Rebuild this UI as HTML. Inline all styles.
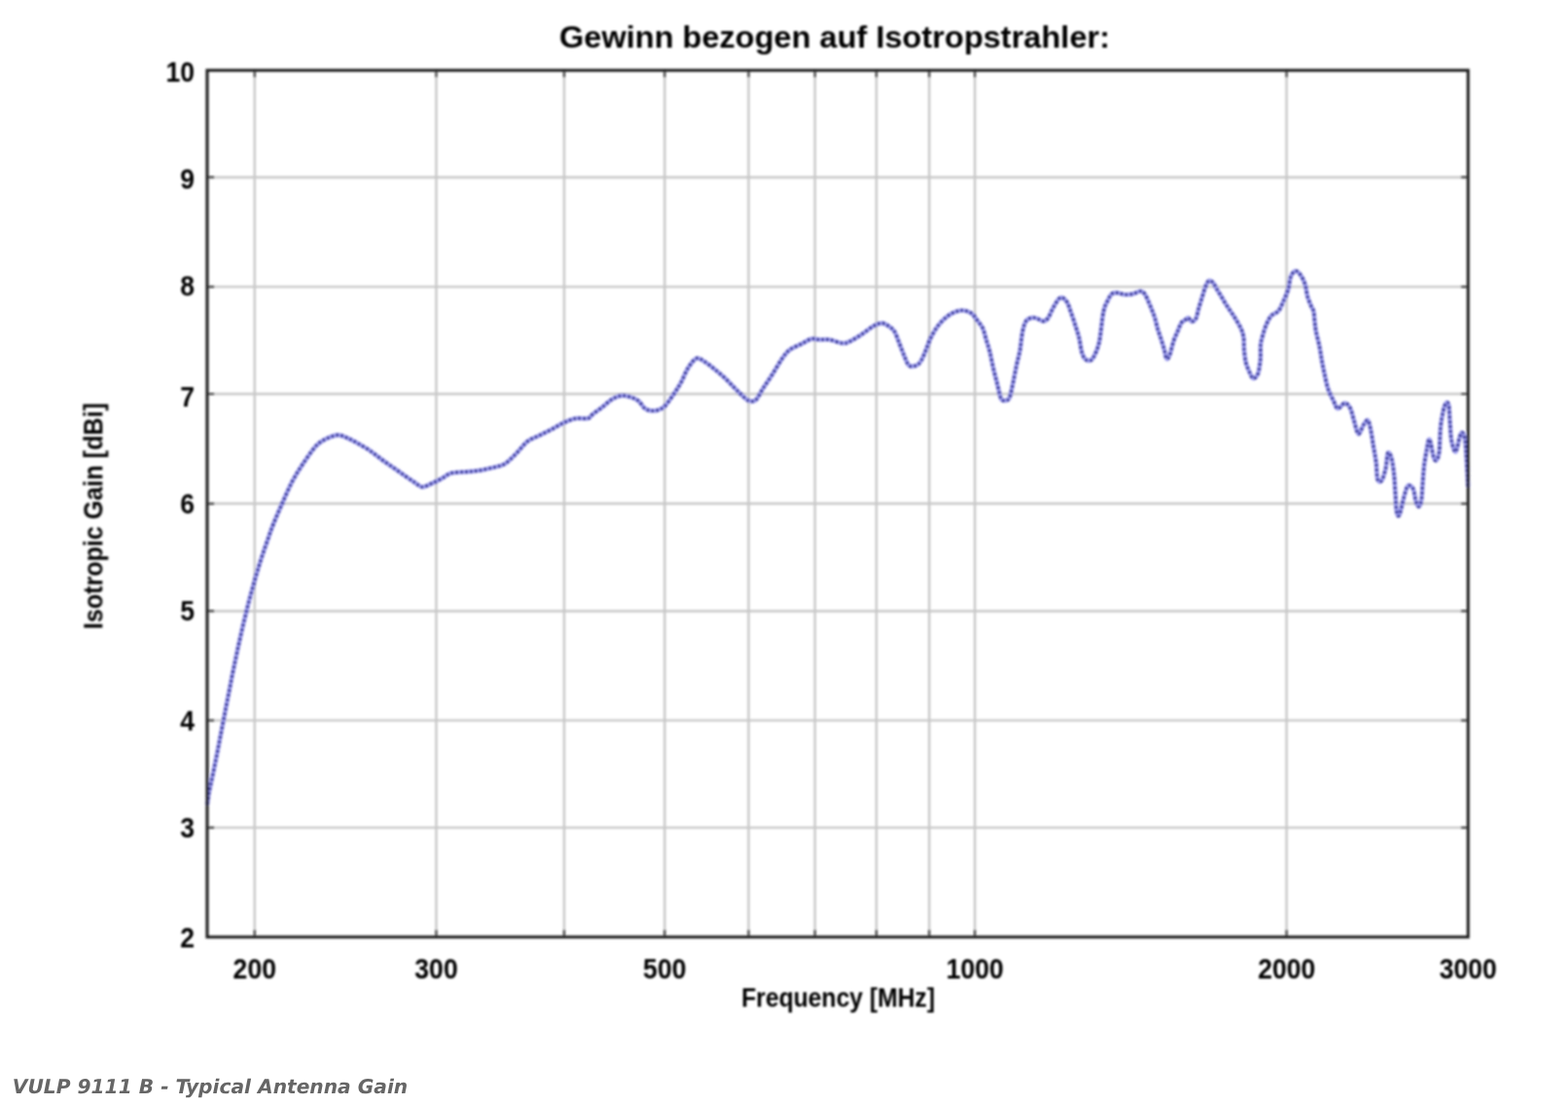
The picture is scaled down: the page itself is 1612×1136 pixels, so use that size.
<!DOCTYPE html><html><head><meta charset="utf-8"><title>VULP 9111 B - Typical Antenna Gain</title><style>
html,body{margin:0;padding:0;background:#fff;}body{width:1612px;height:1136px;position:relative;overflow:hidden;}
svg{position:absolute;left:0;top:0;}
.t{font-family:"Liberation Sans",Arial,sans-serif;font-weight:bold;fill:#000;}
.cap{position:absolute;left:12.8px;top:0;font-family:"DejaVu Sans",Verdana,sans-serif;font-weight:bold;font-style:italic;font-size:20.2px;color:#666;white-space:nowrap;line-height:1;text-rendering:geometricPrecision;transform:scale(1.000,1.000);transform-origin:0 17.1px;}
</style></head><body>
<svg width="1612" height="1136" viewBox="0 0 1612 1136">
<defs><filter id="bl" filterUnits="userSpaceOnUse" x="0" y="0" width="1612" height="1136"><feGaussianBlur stdDeviation="0.80"/></filter><filter id="bl2" filterUnits="userSpaceOnUse" x="0" y="0" width="1612" height="1136"><feGaussianBlur stdDeviation="0.90"/></filter></defs>
<g filter="url(#bl2)">
<path d="M261.8,72.3V963.3M448.5,72.3V963.3M580.0,72.3V963.3M683.3,72.3V963.3M769.6,72.3V963.3M837.8,72.3V963.3M901.0,72.3V963.3M955.3,72.3V963.3M1002.2,72.3V963.3M1322.7,72.3V963.3M213.0,850.9H1509.3M213.0,740.6H1509.3M213.0,628.2H1509.3M213.0,517.8H1509.3M213.0,405.0H1509.3M213.0,294.9H1509.3M213.0,182.2H1509.3" stroke="#c8c8c8" stroke-width="2.40" fill="none"/>
</g><g filter="url(#bl)">
<path d="M261.8,72.3V79.3M261.8,963.3V956.3M448.5,72.3V79.3M448.5,963.3V956.3M580.0,72.3V79.3M580.0,963.3V956.3M683.3,72.3V79.3M683.3,963.3V956.3M769.6,72.3V79.3M769.6,963.3V956.3M837.8,72.3V79.3M837.8,963.3V956.3M901.0,72.3V79.3M901.0,963.3V956.3M955.3,72.3V79.3M955.3,963.3V956.3M1002.2,72.3V79.3M1002.2,963.3V956.3M1322.7,72.3V79.3M1322.7,963.3V956.3M213.0,850.9H220.0M1509.3,850.9H1502.3M213.0,740.6H220.0M1509.3,740.6H1502.3M213.0,628.2H220.0M1509.3,628.2H1502.3M213.0,517.8H220.0M1509.3,517.8H1502.3M213.0,405.0H220.0M1509.3,405.0H1502.3M213.0,294.9H220.0M1509.3,294.9H1502.3M213.0,182.2H220.0M1509.3,182.2H1502.3" stroke="#555" stroke-width="2.2" fill="none"/>
<path d="M213.2,826.5 C213.5,824.6 214.1,818.8 214.8,814.9 C215.5,811.0 216.6,806.9 217.4,802.9 C218.2,798.9 219.1,794.9 219.9,790.9 C220.7,786.9 221.5,782.9 222.3,778.9 C223.1,774.9 223.9,770.9 224.7,766.9 C225.5,762.9 226.2,758.9 227.0,754.9 C227.8,750.9 228.5,746.9 229.3,742.9 C230.1,738.9 230.8,734.9 231.6,730.9 C232.4,726.9 233.1,722.9 233.9,718.9 C234.7,714.9 235.5,710.9 236.3,706.9 C237.1,702.9 237.8,698.9 238.6,694.9 C239.4,690.9 240.3,686.9 241.1,682.9 C241.9,678.9 242.8,674.9 243.6,670.9 C244.4,666.9 245.3,662.9 246.2,658.9 C247.1,654.9 248.0,650.9 248.9,646.9 C249.8,642.9 250.8,638.9 251.8,634.9 C252.8,630.9 253.7,626.9 254.7,622.9 C255.7,618.9 256.8,614.9 257.9,610.9 C259.0,606.9 260.1,602.9 261.2,598.9 C262.3,594.9 263.5,590.9 264.7,586.9 C265.9,582.9 267.1,578.9 268.4,574.9 C269.7,570.9 271.0,566.9 272.4,562.9 C273.8,558.9 275.2,554.9 276.6,550.9 C278.0,546.9 278.8,544.4 281.0,538.9 C283.2,533.4 286.7,525.3 289.9,518.0 C293.1,510.7 296.9,501.9 300.4,495.1 C303.9,488.4 306.9,483.6 311.0,477.5 C315.1,471.4 321.0,462.6 325.1,458.2 C329.2,453.8 331.9,452.9 335.6,451.1 C339.3,449.3 343.8,447.4 347.4,447.3 C351.0,447.2 354.0,449.0 357.3,450.4 C360.6,451.8 363.5,453.3 367.2,455.4 C370.9,457.5 375.5,460.0 379.6,462.8 C383.7,465.6 387.9,469.1 392.0,472.1 C396.1,475.1 400.3,477.9 404.4,480.8 C408.5,483.7 413.1,486.9 416.8,489.5 C420.5,492.1 423.9,494.4 426.8,496.3 C429.7,498.2 431.3,500.5 434.2,500.6 C437.1,500.7 440.8,498.3 444.1,496.9 C447.4,495.5 450.8,493.8 454.1,492.0 C457.4,490.2 459.9,487.5 464.0,486.4 C468.1,485.2 474.3,485.5 478.9,485.1 C483.4,484.7 486.8,484.6 491.3,483.9 C495.9,483.2 501.6,481.9 506.2,480.8 C510.8,479.7 514.6,479.4 518.6,477.1 C522.6,474.8 526.0,470.9 530.0,467.0 C534.0,463.1 538.2,457.0 542.3,453.8 C546.4,450.6 550.6,449.7 554.7,447.6 C558.8,445.5 563.0,443.6 567.1,441.4 C571.2,439.2 575.5,436.5 579.6,434.6 C583.8,432.7 587.9,430.9 592.0,430.2 C596.1,429.5 601.5,430.9 604.4,430.2 C607.3,429.5 606.8,427.8 609.3,425.9 C611.8,423.9 616.0,421.1 619.3,418.5 C622.6,415.9 625.9,412.4 629.2,410.4 C632.5,408.4 635.8,407.0 639.1,406.7 C642.4,406.4 646.1,407.6 649.0,408.5 C651.9,409.4 654.2,410.4 656.5,412.3 C658.8,414.2 660.6,418.1 662.7,419.7 C664.8,421.3 666.6,421.9 668.9,422.2 C671.2,422.5 673.8,422.4 676.3,421.6 C678.8,420.8 680.9,420.2 683.8,417.2 C686.7,414.2 690.9,407.7 693.7,403.6 C696.5,399.5 698.2,396.7 700.5,392.5 C702.8,388.3 704.8,382.3 707.4,378.3 C710.0,374.3 713.2,369.4 716.1,368.4 C719.0,367.4 721.7,370.2 724.8,372.1 C727.9,374.0 731.4,376.9 734.7,379.6 C738.0,382.3 741.4,385.1 744.7,388.2 C748.0,391.3 751.7,395.3 754.6,398.2 C757.5,401.1 759.5,403.3 762.0,405.6 C764.5,407.9 767.0,410.9 769.5,411.8 C772.0,412.7 774.4,413.3 776.9,411.2 C779.4,409.1 781.5,403.8 784.4,399.4 C787.3,394.9 791.0,389.7 794.3,384.5 C797.6,379.3 801.3,372.5 804.2,368.4 C807.1,364.3 808.4,362.2 811.7,359.7 C815.0,357.2 820.4,355.4 824.1,353.5 C827.8,351.6 830.9,349.2 834.0,348.5 C837.1,347.8 839.6,349.1 842.7,349.2 C845.8,349.3 848.7,348.6 852.6,349.2 C856.5,349.8 862.8,352.6 866.3,352.9 C869.8,353.2 870.4,352.6 873.7,351.0 C877.0,349.4 882.0,346.3 886.1,343.6 C890.2,340.9 895.0,336.8 898.5,334.9 C902.0,333.0 904.6,332.1 907.3,332.3 C910.0,332.5 912.6,334.7 914.7,336.1 C916.8,337.6 918.0,338.1 919.7,341.0 C921.4,343.9 923.1,349.3 924.7,353.4 C926.4,357.5 928.0,362.1 929.6,365.8 C931.2,369.5 932.5,374.1 934.6,375.8 C936.7,377.5 939.9,376.6 942.0,375.8 C944.1,375.0 945.3,373.5 947.0,370.8 C948.7,368.1 950.4,363.5 952.0,359.6 C953.6,355.7 954.8,351.3 956.9,347.2 C959.0,343.1 961.5,338.5 964.4,334.8 C967.3,331.1 971.0,327.4 974.3,324.9 C977.6,322.4 981.3,320.8 984.2,319.9 C987.1,319.0 989.2,318.9 991.7,319.3 C994.2,319.7 997.0,320.8 999.1,322.4 C1001.2,323.9 1002.2,326.1 1004.1,328.6 C1006.0,331.1 1008.6,333.8 1010.3,337.3 C1011.9,340.8 1012.8,345.6 1014.0,349.7 C1015.2,353.8 1016.5,357.1 1017.7,362.1 C1018.9,367.1 1020.1,374.1 1021.4,379.5 C1022.6,384.9 1024.0,389.4 1025.2,394.4 C1026.5,399.4 1027.7,406.4 1028.9,409.3 C1030.1,412.2 1031.1,411.7 1032.6,411.7 C1034.0,411.7 1036.1,412.2 1037.6,409.3 C1039.0,406.4 1040.1,400.0 1041.3,394.4 C1042.5,388.8 1043.8,381.6 1045.0,375.8 C1046.2,370.0 1047.7,365.4 1048.7,359.6 C1049.7,353.8 1050.2,345.9 1051.2,341.0 C1052.2,336.1 1053.2,332.3 1054.9,329.9 C1056.6,327.5 1059.2,327.1 1061.1,326.7 C1063.0,326.3 1064.2,326.8 1066.1,327.4 C1068.0,328.0 1070.5,330.2 1072.4,330.2 C1074.3,330.1 1075.8,329.3 1077.4,327.1 C1079.1,324.9 1080.5,320.5 1082.3,317.2 C1084.1,313.9 1086.8,309.1 1088.5,307.3 C1090.2,305.5 1090.8,305.5 1092.3,306.1 C1093.8,306.7 1095.8,308.5 1097.2,311.0 C1098.6,313.5 1099.5,316.8 1100.9,320.9 C1102.4,325.0 1104.5,331.2 1105.9,335.8 C1107.4,340.4 1108.6,343.9 1109.6,348.2 C1110.6,352.5 1111.1,358.4 1112.1,361.9 C1113.1,365.4 1114.3,367.9 1115.8,369.3 C1117.2,370.8 1119.3,371.0 1120.8,370.6 C1122.2,370.2 1123.0,369.9 1124.5,366.8 C1126.0,363.7 1128.3,359.7 1130.0,352.0 C1131.7,344.3 1132.9,327.7 1134.4,320.5 C1135.9,313.3 1137.3,312.1 1138.8,309.0 C1140.3,305.9 1141.4,303.3 1143.2,302.0 C1145.0,300.7 1147.2,301.0 1149.4,301.1 C1151.6,301.2 1153.8,302.8 1156.4,302.9 C1159.0,303.0 1162.6,302.6 1165.2,302.0 C1167.8,301.4 1170.4,299.4 1172.3,299.4 C1174.2,299.4 1175.2,300.1 1176.7,302.0 C1178.2,303.9 1179.7,307.9 1181.0,310.8 C1182.3,313.7 1183.6,317.0 1184.6,319.6 C1185.6,322.2 1186.3,323.8 1187.2,326.7 C1188.1,329.6 1188.9,333.7 1189.9,337.2 C1190.9,340.7 1192.2,344.1 1193.4,347.8 C1194.6,351.5 1196.0,356.0 1196.9,359.2 C1197.8,362.4 1198.0,365.5 1198.6,367.1 C1199.2,368.7 1199.7,369.5 1200.4,368.9 C1201.1,368.3 1202.0,366.7 1203.0,363.6 C1204.0,360.5 1205.3,354.3 1206.6,350.4 C1207.9,346.4 1209.7,343.0 1211.0,339.9 C1212.3,336.8 1213.3,333.7 1214.5,331.9 C1215.7,330.1 1216.8,330.2 1218.0,329.3 C1219.2,328.4 1220.4,326.5 1221.6,326.7 C1222.8,326.9 1223.8,330.5 1225.1,330.6 C1226.4,330.7 1228.3,329.6 1229.5,327.5 C1230.7,325.4 1231.1,321.4 1232.1,317.9 C1233.1,314.4 1234.4,310.2 1235.6,306.4 C1236.8,302.6 1238.0,297.9 1239.2,295.0 C1240.4,292.1 1241.4,289.5 1242.7,288.8 C1244.0,288.1 1245.8,289.3 1247.1,290.6 C1248.4,291.9 1249.2,294.4 1250.5,296.5 C1251.8,298.6 1253.2,300.9 1254.8,303.5 C1256.4,306.1 1258.2,309.5 1259.9,312.2 C1261.6,314.9 1263.2,317.1 1264.8,319.6 C1266.4,322.1 1267.9,324.0 1269.8,327.1 C1271.7,330.2 1274.5,334.9 1276.0,338.2 C1277.5,341.5 1278.0,343.4 1278.5,346.9 C1279.0,350.4 1278.6,354.9 1279.0,359.3 C1279.4,363.7 1280.0,369.1 1280.9,373.0 C1281.9,376.9 1283.5,380.2 1284.7,382.9 C1286.0,385.6 1287.0,388.9 1288.4,389.1 C1289.8,389.3 1292.1,387.4 1293.3,384.1 C1294.5,380.8 1295.3,374.2 1295.8,369.3 C1296.2,364.4 1295.6,358.5 1296.0,354.4 C1296.4,350.2 1297.3,347.9 1298.3,344.4 C1299.3,340.9 1300.5,336.6 1302.0,333.3 C1303.5,330.0 1304.9,326.9 1307.0,324.6 C1309.1,322.3 1312.3,322.1 1314.4,319.6 C1316.5,317.1 1317.7,313.4 1319.4,309.7 C1321.1,306.0 1323.2,301.4 1324.4,297.3 C1325.6,293.2 1325.6,288.0 1326.8,284.9 C1328.0,281.8 1330.1,279.1 1331.8,278.7 C1333.5,278.3 1335.1,280.1 1336.8,282.4 C1338.5,284.7 1340.5,288.6 1341.7,292.3 C1342.9,296.0 1343.2,301.0 1344.2,304.7 C1345.2,308.4 1346.9,312.1 1347.9,314.7 C1349.0,317.2 1349.9,317.5 1350.5,320.0 C1351.1,322.5 1351.1,326.2 1351.5,329.6 C1351.9,333.1 1352.1,336.2 1352.9,340.7 C1353.8,345.2 1355.6,351.6 1356.6,356.8 C1357.6,362.0 1358.3,367.1 1359.1,371.7 C1359.9,376.2 1360.5,379.4 1361.6,384.1 C1362.6,388.8 1363.8,395.3 1365.4,400.0 C1367.0,404.7 1369.4,409.0 1371.1,412.4 C1372.8,415.8 1373.5,419.8 1375.4,420.1 C1377.3,420.5 1380.3,414.6 1382.4,414.5 C1384.5,414.4 1386.3,416.2 1388.0,419.4 C1389.7,422.6 1390.9,429.0 1392.3,433.5 C1393.7,438.0 1394.9,445.7 1396.5,446.2 C1398.1,446.7 1400.5,438.6 1402.1,436.3 C1403.7,434.0 1405.1,431.2 1406.3,432.1 C1407.5,433.1 1408.2,437.5 1409.2,442.0 C1410.2,446.5 1411.1,453.3 1412.0,458.9 C1412.9,464.5 1414.1,470.2 1414.8,475.8 C1415.5,481.4 1415.3,489.6 1416.2,492.7 C1417.1,495.8 1419.0,496.0 1420.4,494.1 C1421.8,492.2 1423.5,486.1 1424.6,481.4 C1425.7,476.7 1425.8,467.8 1426.8,465.9 C1427.8,464.0 1429.2,466.6 1430.3,470.1 C1431.3,473.6 1432.4,480.9 1433.1,487.0 C1433.8,493.1 1434.0,500.2 1434.5,506.8 C1435.0,513.4 1435.2,522.8 1435.9,526.5 C1436.6,530.2 1437.5,531.6 1438.7,529.3 C1439.9,526.9 1441.6,517.3 1443.0,512.4 C1444.4,507.5 1445.6,501.3 1447.2,499.7 C1448.8,498.1 1451.4,499.9 1452.8,502.5 C1454.2,505.1 1454.6,512.2 1455.6,515.2 C1456.5,518.2 1457.5,521.0 1458.5,520.8 C1459.5,520.6 1460.6,518.0 1461.3,513.8 C1462.0,509.6 1462.2,501.4 1462.7,495.5 C1463.2,489.6 1463.4,484.2 1464.1,478.6 C1464.8,473.0 1466.0,466.2 1466.9,461.7 C1467.8,457.2 1468.5,450.4 1469.7,451.8 C1470.9,453.2 1472.7,466.6 1473.9,470.1 C1475.1,473.6 1475.8,473.9 1476.8,473.0 C1477.8,472.1 1478.9,470.1 1479.6,464.5 C1480.3,458.9 1480.3,446.2 1481.0,439.2 C1481.7,432.2 1482.9,426.4 1483.8,422.3 C1484.7,418.2 1485.7,415.4 1486.6,414.5 C1487.5,413.6 1488.7,413.0 1489.4,416.6 C1490.1,420.2 1490.3,430.2 1490.8,436.3 C1491.3,442.4 1491.3,448.5 1492.3,453.2 C1493.2,457.9 1495.1,465.2 1496.5,464.5 C1497.9,463.8 1499.5,452.3 1500.7,449.0 C1501.9,445.7 1502.6,444.1 1503.5,444.8 C1504.4,445.5 1505.6,448.8 1506.3,453.2 C1507.0,457.6 1507.2,463.8 1507.7,471.5 C1508.2,479.2 1509.0,495.0 1509.2,499.7" stroke="#9c9cf0" stroke-width="4.40" fill="none" stroke-linejoin="round" stroke-linecap="round"/>
<path d="M213.2,826.5 C213.5,824.6 214.1,818.8 214.8,814.9 C215.5,811.0 216.6,806.9 217.4,802.9 C218.2,798.9 219.1,794.9 219.9,790.9 C220.7,786.9 221.5,782.9 222.3,778.9 C223.1,774.9 223.9,770.9 224.7,766.9 C225.5,762.9 226.2,758.9 227.0,754.9 C227.8,750.9 228.5,746.9 229.3,742.9 C230.1,738.9 230.8,734.9 231.6,730.9 C232.4,726.9 233.1,722.9 233.9,718.9 C234.7,714.9 235.5,710.9 236.3,706.9 C237.1,702.9 237.8,698.9 238.6,694.9 C239.4,690.9 240.3,686.9 241.1,682.9 C241.9,678.9 242.8,674.9 243.6,670.9 C244.4,666.9 245.3,662.9 246.2,658.9 C247.1,654.9 248.0,650.9 248.9,646.9 C249.8,642.9 250.8,638.9 251.8,634.9 C252.8,630.9 253.7,626.9 254.7,622.9 C255.7,618.9 256.8,614.9 257.9,610.9 C259.0,606.9 260.1,602.9 261.2,598.9 C262.3,594.9 263.5,590.9 264.7,586.9 C265.9,582.9 267.1,578.9 268.4,574.9 C269.7,570.9 271.0,566.9 272.4,562.9 C273.8,558.9 275.2,554.9 276.6,550.9 C278.0,546.9 278.8,544.4 281.0,538.9 C283.2,533.4 286.7,525.3 289.9,518.0 C293.1,510.7 296.9,501.9 300.4,495.1 C303.9,488.4 306.9,483.6 311.0,477.5 C315.1,471.4 321.0,462.6 325.1,458.2 C329.2,453.8 331.9,452.9 335.6,451.1 C339.3,449.3 343.8,447.4 347.4,447.3 C351.0,447.2 354.0,449.0 357.3,450.4 C360.6,451.8 363.5,453.3 367.2,455.4 C370.9,457.5 375.5,460.0 379.6,462.8 C383.7,465.6 387.9,469.1 392.0,472.1 C396.1,475.1 400.3,477.9 404.4,480.8 C408.5,483.7 413.1,486.9 416.8,489.5 C420.5,492.1 423.9,494.4 426.8,496.3 C429.7,498.2 431.3,500.5 434.2,500.6 C437.1,500.7 440.8,498.3 444.1,496.9 C447.4,495.5 450.8,493.8 454.1,492.0 C457.4,490.2 459.9,487.5 464.0,486.4 C468.1,485.2 474.3,485.5 478.9,485.1 C483.4,484.7 486.8,484.6 491.3,483.9 C495.9,483.2 501.6,481.9 506.2,480.8 C510.8,479.7 514.6,479.4 518.6,477.1 C522.6,474.8 526.0,470.9 530.0,467.0 C534.0,463.1 538.2,457.0 542.3,453.8 C546.4,450.6 550.6,449.7 554.7,447.6 C558.8,445.5 563.0,443.6 567.1,441.4 C571.2,439.2 575.5,436.5 579.6,434.6 C583.8,432.7 587.9,430.9 592.0,430.2 C596.1,429.5 601.5,430.9 604.4,430.2 C607.3,429.5 606.8,427.8 609.3,425.9 C611.8,423.9 616.0,421.1 619.3,418.5 C622.6,415.9 625.9,412.4 629.2,410.4 C632.5,408.4 635.8,407.0 639.1,406.7 C642.4,406.4 646.1,407.6 649.0,408.5 C651.9,409.4 654.2,410.4 656.5,412.3 C658.8,414.2 660.6,418.1 662.7,419.7 C664.8,421.3 666.6,421.9 668.9,422.2 C671.2,422.5 673.8,422.4 676.3,421.6 C678.8,420.8 680.9,420.2 683.8,417.2 C686.7,414.2 690.9,407.7 693.7,403.6 C696.5,399.5 698.2,396.7 700.5,392.5 C702.8,388.3 704.8,382.3 707.4,378.3 C710.0,374.3 713.2,369.4 716.1,368.4 C719.0,367.4 721.7,370.2 724.8,372.1 C727.9,374.0 731.4,376.9 734.7,379.6 C738.0,382.3 741.4,385.1 744.7,388.2 C748.0,391.3 751.7,395.3 754.6,398.2 C757.5,401.1 759.5,403.3 762.0,405.6 C764.5,407.9 767.0,410.9 769.5,411.8 C772.0,412.7 774.4,413.3 776.9,411.2 C779.4,409.1 781.5,403.8 784.4,399.4 C787.3,394.9 791.0,389.7 794.3,384.5 C797.6,379.3 801.3,372.5 804.2,368.4 C807.1,364.3 808.4,362.2 811.7,359.7 C815.0,357.2 820.4,355.4 824.1,353.5 C827.8,351.6 830.9,349.2 834.0,348.5 C837.1,347.8 839.6,349.1 842.7,349.2 C845.8,349.3 848.7,348.6 852.6,349.2 C856.5,349.8 862.8,352.6 866.3,352.9 C869.8,353.2 870.4,352.6 873.7,351.0 C877.0,349.4 882.0,346.3 886.1,343.6 C890.2,340.9 895.0,336.8 898.5,334.9 C902.0,333.0 904.6,332.1 907.3,332.3 C910.0,332.5 912.6,334.7 914.7,336.1 C916.8,337.6 918.0,338.1 919.7,341.0 C921.4,343.9 923.1,349.3 924.7,353.4 C926.4,357.5 928.0,362.1 929.6,365.8 C931.2,369.5 932.5,374.1 934.6,375.8 C936.7,377.5 939.9,376.6 942.0,375.8 C944.1,375.0 945.3,373.5 947.0,370.8 C948.7,368.1 950.4,363.5 952.0,359.6 C953.6,355.7 954.8,351.3 956.9,347.2 C959.0,343.1 961.5,338.5 964.4,334.8 C967.3,331.1 971.0,327.4 974.3,324.9 C977.6,322.4 981.3,320.8 984.2,319.9 C987.1,319.0 989.2,318.9 991.7,319.3 C994.2,319.7 997.0,320.8 999.1,322.4 C1001.2,323.9 1002.2,326.1 1004.1,328.6 C1006.0,331.1 1008.6,333.8 1010.3,337.3 C1011.9,340.8 1012.8,345.6 1014.0,349.7 C1015.2,353.8 1016.5,357.1 1017.7,362.1 C1018.9,367.1 1020.1,374.1 1021.4,379.5 C1022.6,384.9 1024.0,389.4 1025.2,394.4 C1026.5,399.4 1027.7,406.4 1028.9,409.3 C1030.1,412.2 1031.1,411.7 1032.6,411.7 C1034.0,411.7 1036.1,412.2 1037.6,409.3 C1039.0,406.4 1040.1,400.0 1041.3,394.4 C1042.5,388.8 1043.8,381.6 1045.0,375.8 C1046.2,370.0 1047.7,365.4 1048.7,359.6 C1049.7,353.8 1050.2,345.9 1051.2,341.0 C1052.2,336.1 1053.2,332.3 1054.9,329.9 C1056.6,327.5 1059.2,327.1 1061.1,326.7 C1063.0,326.3 1064.2,326.8 1066.1,327.4 C1068.0,328.0 1070.5,330.2 1072.4,330.2 C1074.3,330.1 1075.8,329.3 1077.4,327.1 C1079.1,324.9 1080.5,320.5 1082.3,317.2 C1084.1,313.9 1086.8,309.1 1088.5,307.3 C1090.2,305.5 1090.8,305.5 1092.3,306.1 C1093.8,306.7 1095.8,308.5 1097.2,311.0 C1098.6,313.5 1099.5,316.8 1100.9,320.9 C1102.4,325.0 1104.5,331.2 1105.9,335.8 C1107.4,340.4 1108.6,343.9 1109.6,348.2 C1110.6,352.5 1111.1,358.4 1112.1,361.9 C1113.1,365.4 1114.3,367.9 1115.8,369.3 C1117.2,370.8 1119.3,371.0 1120.8,370.6 C1122.2,370.2 1123.0,369.9 1124.5,366.8 C1126.0,363.7 1128.3,359.7 1130.0,352.0 C1131.7,344.3 1132.9,327.7 1134.4,320.5 C1135.9,313.3 1137.3,312.1 1138.8,309.0 C1140.3,305.9 1141.4,303.3 1143.2,302.0 C1145.0,300.7 1147.2,301.0 1149.4,301.1 C1151.6,301.2 1153.8,302.8 1156.4,302.9 C1159.0,303.0 1162.6,302.6 1165.2,302.0 C1167.8,301.4 1170.4,299.4 1172.3,299.4 C1174.2,299.4 1175.2,300.1 1176.7,302.0 C1178.2,303.9 1179.7,307.9 1181.0,310.8 C1182.3,313.7 1183.6,317.0 1184.6,319.6 C1185.6,322.2 1186.3,323.8 1187.2,326.7 C1188.1,329.6 1188.9,333.7 1189.9,337.2 C1190.9,340.7 1192.2,344.1 1193.4,347.8 C1194.6,351.5 1196.0,356.0 1196.9,359.2 C1197.8,362.4 1198.0,365.5 1198.6,367.1 C1199.2,368.7 1199.7,369.5 1200.4,368.9 C1201.1,368.3 1202.0,366.7 1203.0,363.6 C1204.0,360.5 1205.3,354.3 1206.6,350.4 C1207.9,346.4 1209.7,343.0 1211.0,339.9 C1212.3,336.8 1213.3,333.7 1214.5,331.9 C1215.7,330.1 1216.8,330.2 1218.0,329.3 C1219.2,328.4 1220.4,326.5 1221.6,326.7 C1222.8,326.9 1223.8,330.5 1225.1,330.6 C1226.4,330.7 1228.3,329.6 1229.5,327.5 C1230.7,325.4 1231.1,321.4 1232.1,317.9 C1233.1,314.4 1234.4,310.2 1235.6,306.4 C1236.8,302.6 1238.0,297.9 1239.2,295.0 C1240.4,292.1 1241.4,289.5 1242.7,288.8 C1244.0,288.1 1245.8,289.3 1247.1,290.6 C1248.4,291.9 1249.2,294.4 1250.5,296.5 C1251.8,298.6 1253.2,300.9 1254.8,303.5 C1256.4,306.1 1258.2,309.5 1259.9,312.2 C1261.6,314.9 1263.2,317.1 1264.8,319.6 C1266.4,322.1 1267.9,324.0 1269.8,327.1 C1271.7,330.2 1274.5,334.9 1276.0,338.2 C1277.5,341.5 1278.0,343.4 1278.5,346.9 C1279.0,350.4 1278.6,354.9 1279.0,359.3 C1279.4,363.7 1280.0,369.1 1280.9,373.0 C1281.9,376.9 1283.5,380.2 1284.7,382.9 C1286.0,385.6 1287.0,388.9 1288.4,389.1 C1289.8,389.3 1292.1,387.4 1293.3,384.1 C1294.5,380.8 1295.3,374.2 1295.8,369.3 C1296.2,364.4 1295.6,358.5 1296.0,354.4 C1296.4,350.2 1297.3,347.9 1298.3,344.4 C1299.3,340.9 1300.5,336.6 1302.0,333.3 C1303.5,330.0 1304.9,326.9 1307.0,324.6 C1309.1,322.3 1312.3,322.1 1314.4,319.6 C1316.5,317.1 1317.7,313.4 1319.4,309.7 C1321.1,306.0 1323.2,301.4 1324.4,297.3 C1325.6,293.2 1325.6,288.0 1326.8,284.9 C1328.0,281.8 1330.1,279.1 1331.8,278.7 C1333.5,278.3 1335.1,280.1 1336.8,282.4 C1338.5,284.7 1340.5,288.6 1341.7,292.3 C1342.9,296.0 1343.2,301.0 1344.2,304.7 C1345.2,308.4 1346.9,312.1 1347.9,314.7 C1349.0,317.2 1349.9,317.5 1350.5,320.0 C1351.1,322.5 1351.1,326.2 1351.5,329.6 C1351.9,333.1 1352.1,336.2 1352.9,340.7 C1353.8,345.2 1355.6,351.6 1356.6,356.8 C1357.6,362.0 1358.3,367.1 1359.1,371.7 C1359.9,376.2 1360.5,379.4 1361.6,384.1 C1362.6,388.8 1363.8,395.3 1365.4,400.0 C1367.0,404.7 1369.4,409.0 1371.1,412.4 C1372.8,415.8 1373.5,419.8 1375.4,420.1 C1377.3,420.5 1380.3,414.6 1382.4,414.5 C1384.5,414.4 1386.3,416.2 1388.0,419.4 C1389.7,422.6 1390.9,429.0 1392.3,433.5 C1393.7,438.0 1394.9,445.7 1396.5,446.2 C1398.1,446.7 1400.5,438.6 1402.1,436.3 C1403.7,434.0 1405.1,431.2 1406.3,432.1 C1407.5,433.1 1408.2,437.5 1409.2,442.0 C1410.2,446.5 1411.1,453.3 1412.0,458.9 C1412.9,464.5 1414.1,470.2 1414.8,475.8 C1415.5,481.4 1415.3,489.6 1416.2,492.7 C1417.1,495.8 1419.0,496.0 1420.4,494.1 C1421.8,492.2 1423.5,486.1 1424.6,481.4 C1425.7,476.7 1425.8,467.8 1426.8,465.9 C1427.8,464.0 1429.2,466.6 1430.3,470.1 C1431.3,473.6 1432.4,480.9 1433.1,487.0 C1433.8,493.1 1434.0,500.2 1434.5,506.8 C1435.0,513.4 1435.2,522.8 1435.9,526.5 C1436.6,530.2 1437.5,531.6 1438.7,529.3 C1439.9,526.9 1441.6,517.3 1443.0,512.4 C1444.4,507.5 1445.6,501.3 1447.2,499.7 C1448.8,498.1 1451.4,499.9 1452.8,502.5 C1454.2,505.1 1454.6,512.2 1455.6,515.2 C1456.5,518.2 1457.5,521.0 1458.5,520.8 C1459.5,520.6 1460.6,518.0 1461.3,513.8 C1462.0,509.6 1462.2,501.4 1462.7,495.5 C1463.2,489.6 1463.4,484.2 1464.1,478.6 C1464.8,473.0 1466.0,466.2 1466.9,461.7 C1467.8,457.2 1468.5,450.4 1469.7,451.8 C1470.9,453.2 1472.7,466.6 1473.9,470.1 C1475.1,473.6 1475.8,473.9 1476.8,473.0 C1477.8,472.1 1478.9,470.1 1479.6,464.5 C1480.3,458.9 1480.3,446.2 1481.0,439.2 C1481.7,432.2 1482.9,426.4 1483.8,422.3 C1484.7,418.2 1485.7,415.4 1486.6,414.5 C1487.5,413.6 1488.7,413.0 1489.4,416.6 C1490.1,420.2 1490.3,430.2 1490.8,436.3 C1491.3,442.4 1491.3,448.5 1492.3,453.2 C1493.2,457.9 1495.1,465.2 1496.5,464.5 C1497.9,463.8 1499.5,452.3 1500.7,449.0 C1501.9,445.7 1502.6,444.1 1503.5,444.8 C1504.4,445.5 1505.6,448.8 1506.3,453.2 C1507.0,457.6 1507.2,463.8 1507.7,471.5 C1508.2,479.2 1509.0,495.0 1509.2,499.7" stroke="#26268c" stroke-width="3.40" fill="none" stroke-dasharray="2.4 2.5"/>
<rect x="213.0" y="72.3" width="1296.3" height="891.0" stroke="#1c1c1c" stroke-width="3.0" fill="none"/>
<text class="t" x="575.0" y="49.3" font-size="31.0" textLength="566.0" lengthAdjust="spacingAndGlyphs">Gewinn bezogen auf Isotropstrahler:</text>
<text class="t" transform="translate(200.0,974.2) scale(0.950,1.050)" text-anchor="end" font-size="28.0">2</text>
<text class="t" transform="translate(200.0,860.5) scale(0.950,1.050)" text-anchor="end" font-size="28.0">3</text>
<text class="t" transform="translate(200.0,751.0) scale(0.950,1.050)" text-anchor="end" font-size="28.0">4</text>
<text class="t" transform="translate(200.0,638.0) scale(0.950,1.050)" text-anchor="end" font-size="28.0">5</text>
<text class="t" transform="translate(200.0,528.2) scale(0.950,1.050)" text-anchor="end" font-size="28.0">6</text>
<text class="t" transform="translate(200.0,418.3) scale(0.950,1.050)" text-anchor="end" font-size="28.0">7</text>
<text class="t" transform="translate(200.0,304.3) scale(0.950,1.050)" text-anchor="end" font-size="28.0">8</text>
<text class="t" transform="translate(200.0,194.3) scale(0.950,1.050)" text-anchor="end" font-size="28.0">9</text>
<text class="t" transform="translate(200.0,84.3) scale(0.950,1.050)" text-anchor="end" font-size="28.0">10</text>
<text class="t" transform="translate(261.8,1005.7) scale(0.950,1.050)" text-anchor="middle" font-size="28.0">200</text>
<text class="t" transform="translate(448.5,1005.7) scale(0.950,1.050)" text-anchor="middle" font-size="28.0">300</text>
<text class="t" transform="translate(683.3,1005.7) scale(0.950,1.050)" text-anchor="middle" font-size="28.0">500</text>
<text class="t" transform="translate(1002.2,1005.7) scale(0.950,1.050)" text-anchor="middle" font-size="28.0">1000</text>
<text class="t" transform="translate(1322.7,1005.7) scale(0.950,1.050)" text-anchor="middle" font-size="28.0">2000</text>
<text class="t" transform="translate(1509.3,1005.7) scale(0.950,1.050)" text-anchor="middle" font-size="28.0">3000</text>
<text class="t" x="762.2" y="1034.9" font-size="27.0" textLength="199.0" lengthAdjust="spacingAndGlyphs">Frequency [MHz]</text>
<text class="t" transform="translate(105.3,647.0) rotate(-90)" font-size="27.0" textLength="233.0" lengthAdjust="spacingAndGlyphs">Isotropic Gain [dBi]</text>
</g></svg>
<div class="cap" style="top:1106.7px">VULP 9111 B - Typical Antenna Gain</div>
</body></html>
